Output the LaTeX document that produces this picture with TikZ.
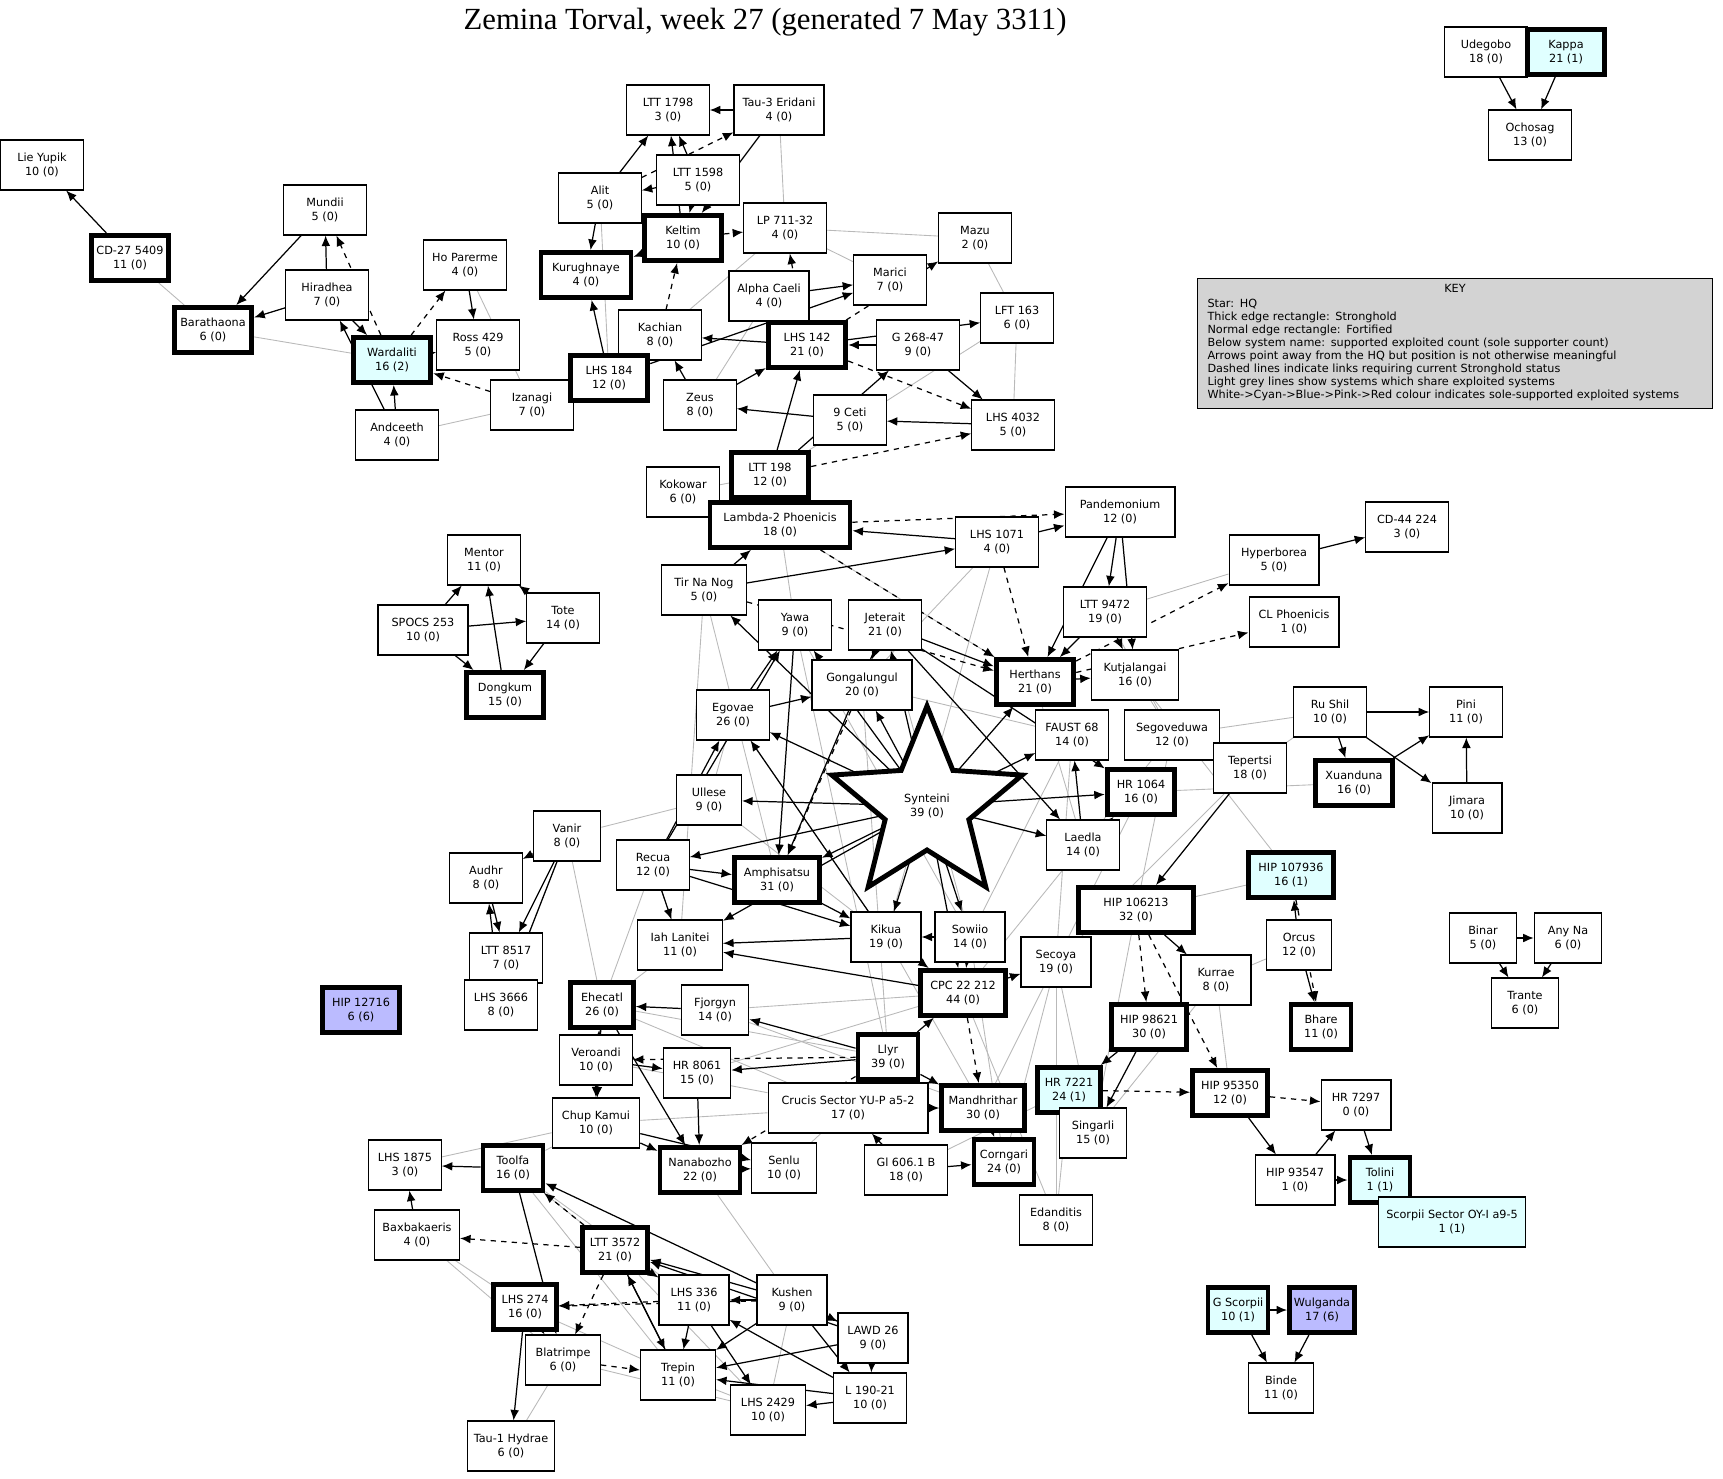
\documentclass[tikz,border=0pt]{standalone}
\usepackage{fontspec}
\setmainfont{DejaVu Sans}
\newfontfamily\titlefont{Liberation Serif}
\usetikzlibrary{arrows.meta}
\definecolor{cy}{HTML}{E0FFFF}
\definecolor{bl}{HTML}{BBBBFF}
\definecolor{kg}{HTML}{D3D3D3}
\pgfdeclarelayer{bg}
\pgfsetlayers{bg,main}
\begin{document}
\begin{tikzpicture}[x=0.02cm,y=-0.02cm,
 nb/.style={draw,fill=white,line width=0.6pt,minimum width=1.65cm,minimum height=1.0cm,align=center,font=\fontsize{6.4}{7.6}\selectfont,inner sep=2pt},
 tb/.style={nb,line width=2.8pt,minimum width=1.55cm,minimum height=0.9cm},
 ar/.style={-{Latex[length=6pt,width=5pt]},line width=0.7pt},
 da/.style={ar,dashed},
 gr/.style={gray!55,line width=0.5pt}]
\useasboundingbox (0,0) rectangle (1723,1479);
\node[font=\titlefont\fontsize{17.5}{20}\selectfont] (title) at (765,22) {Zemina Torval, week 27 (generated 7 May 3311)};
% star
\begin{scope}[shift={(927,806)}]
\draw[line width=2.8pt,fill=white,line join=miter] (-90:100)--(-54:44)--(-18:100)--(18:44)--(54:100)--(90:44)--(126:100)--(162:44)--(198:100)--(234:44)--cycle;
\end{scope}
\node[circle,minimum size=1.6cm,align=center,font=\fontsize{6.4}{7.6}\selectfont] (syn) at (927,806) {Synteini\\39 (0)};
\node[nb] (udeg) at (1486,52) {Udegobo\\18 (0)};
\node[tb,fill=cy] (kapp) at (1566,52) {Kappa\\21 (1)};
\node[nb] (ocho) at (1530,135) {Ochosag\\13 (0)};
\node[nb] (lieY) at (42,165) {Lie Yupik\\10 (0)};
\node[tb] (cd27) at (130,258) {CD-27 5409\\11 (0)};
\node[nb] (mund) at (325,210) {Mundii\\5 (0)};
\node[tb] (bara) at (213,330) {Barathaona\\6 (0)};
\node[nb] (hira) at (327,295) {Hiradhea\\7 (0)};
\node[nb] (hopa) at (465,265) {Ho Parerme\\4 (0)};
\node[nb] (ross) at (478,345) {Ross 429\\5 (0)};
\node[tb,fill=cy] (ward) at (392,360) {Wardaliti\\16 (2)};
\node[nb] (izan) at (532,405) {Izanagi\\7 (0)};
\node[nb] (andc) at (397,435) {Andceeth\\4 (0)};
\node[nb] (lt17) at (668,110) {LTT 1798\\3 (0)};
\node[nb,minimum width=1.8cm] (tau3) at (779,110) {Tau-3 Eridani\\4 (0)};
\node[nb] (alit) at (600,198) {Alit\\5 (0)};
\node[nb] (lt15) at (698,180) {LTT 1598\\5 (0)};
\node[tb] (kelt) at (683,238) {Keltim\\10 (0)};
\node[nb] (lp71) at (785,228) {LP 711-32\\4 (0)};
\node[tb,minimum width=1.8cm] (kuru) at (586,275) {Kurughnaye\\4 (0)};
\node[nb,minimum width=1.45cm] (mazu) at (975,238) {Mazu\\2 (0)};
\node[nb,minimum width=1.45cm] (mari) at (890,280) {Marici\\7 (0)};
\node[nb,minimum width=1.6cm] (alph) at (769,296) {Alpha Caeli\\4 (0)};
\node[nb] (kach) at (660,335) {Kachian\\8 (0)};
\node[tb] (lh14) at (807,345) {LHS 142\\21 (0)};
\node[nb] (g268) at (918,345) {G 268-47\\9 (0)};
\node[nb,minimum width=1.45cm] (lf16) at (1017,318) {LFT 163\\6 (0)};
\node[tb] (lh18) at (609,378) {LHS 184\\12 (0)};
\node[nb,minimum width=1.45cm] (zeus) at (700,405) {Zeus\\8 (0)};
\node[nb,minimum width=1.45cm] (ceti) at (850,420) {9 Ceti\\5 (0)};
\node[nb] (lh40) at (1013,425) {LHS 4032\\5 (0)};
\node[tb] (lt19) at (770,475) {LTT 198\\12 (0)};
\node[nb,minimum width=1.45cm] (koko) at (683,492) {Kokowar\\6 (0)};
\node[tb,minimum width=2.8cm] (lamb) at (780,525) {Lambda-2 Phoenicis\\18 (0)};
\node[nb,minimum width=2.2cm] (pand) at (1120,512) {Pandemonium\\12 (0)};
\node[nb] (cd44) at (1407,527) {CD-44 224\\3 (0)};
\node[nb] (lh10) at (997,542) {LHS 1071\\4 (0)};
\node[nb,minimum width=1.45cm] (ment) at (484,560) {Mentor\\11 (0)};
\node[nb,minimum width=1.7cm] (tirn) at (704,590) {Tir Na Nog\\5 (0)};
\node[nb,minimum width=1.8cm] (hype) at (1274,560) {Hyperborea\\5 (0)};
\node[nb,minimum width=1.45cm] (tote) at (563,618) {Tote\\14 (0)};
\node[nb,minimum width=1.8cm] (spoc) at (423,630) {SPOCS 253\\10 (0)};
\node[nb,minimum width=1.45cm] (yawa) at (795,625) {Yawa\\9 (0)};
\node[nb,minimum width=1.45cm] (jete) at (885,625) {Jeterait\\21 (0)};
\node[nb] (lt94) at (1105,612) {LTT 9472\\19 (0)};
\node[nb,minimum width=1.8cm] (clph) at (1294,622) {CL Phoenicis\\1 (0)};
\node[tb] (hert) at (1035,682) {Herthans\\21 (0)};
\node[nb,minimum width=1.75cm] (kutj) at (1135,675) {Kutjalangai\\16 (0)};
\node[nb,minimum width=2.0cm] (gong) at (862,685) {Gongalungul\\20 (0)};
\node[tb] (dong) at (505,695) {Dongkum\\15 (0)};
\node[nb,minimum width=1.45cm] (egov) at (733,715) {Egovae\\26 (0)};
\node[nb,minimum width=1.45cm] (rush) at (1330,712) {Ru Shil\\10 (0)};
\node[nb,minimum width=1.45cm] (pini) at (1466,712) {Pini\\11 (0)};
\node[nb,minimum width=1.45cm] (faus) at (1072,735) {FAUST 68\\14 (0)};
\node[nb,minimum width=1.9cm] (sego) at (1172,735) {Segoveduwa\\12 (0)};
\node[nb,minimum width=1.3cm] (ulle) at (709,800) {Ullese\\9 (0)};
\node[nb,minimum width=1.45cm] (tepe) at (1250,768) {Tepertsi\\18 (0)};
\node[tb] (xuan) at (1354,783) {Xuanduna\\16 (0)};
\node[nb,minimum width=1.4cm] (jima) at (1467,808) {Jimara\\10 (0)};
\node[tb,minimum width=1.35cm] (hr10) at (1141,792) {HR 1064\\16 (0)};
\node[nb,minimum width=1.35cm] (vani) at (567,836) {Vanir\\8 (0)};
\node[nb,minimum width=1.45cm] (laed) at (1083,845) {Laedla\\14 (0)};
\node[nb,minimum width=1.45cm] (audh) at (486,878) {Audhr\\8 (0)};
\node[nb,minimum width=1.45cm] (recu) at (653,865) {Recua\\12 (0)};
\node[tb,minimum width=1.7cm] (amph) at (777,880) {Amphisatsu\\31 (0)};
\node[tb,fill=cy,minimum width=1.7cm] (h107) at (1291,875) {HIP 107936\\16 (1)};
\node[tb,minimum width=2.3cm] (h106) at (1136,910) {HIP 106213\\32 (0)};
\node[nb,minimum width=1.3cm] (orcu) at (1299,945) {Orcus\\12 (0)};
\node[nb,minimum width=1.35cm] (bina) at (1483,938) {Binar\\5 (0)};
\node[nb,minimum width=1.35cm] (anyn) at (1568,938) {Any Na\\6 (0)};
\node[nb,minimum width=1.45cm] (lt85) at (506,958) {LTT 8517\\7 (0)};
\node[nb,minimum width=1.4cm] (kiku) at (886,937) {Kikua\\19 (0)};
\node[nb,minimum width=1.4cm] (sowi) at (970,937) {Sowiio\\14 (0)};
\node[nb,minimum width=1.7cm] (iahl) at (680,945) {Iah Lanitei\\11 (0)};
\node[nb,minimum width=1.4cm] (kurr) at (1216,980) {Kurrae\\8 (0)};
\node[nb,minimum width=1.4cm] (seco) at (1056,962) {Secoya\\19 (0)};
\node[tb,minimum width=1.7cm] (cpc) at (963,993) {CPC 22 212\\44 (0)};
\node[tb,fill=bl] (h127) at (361,1010) {HIP 12716\\6 (6)};
\node[nb,minimum width=1.45cm] (l366) at (501,1005) {LHS 3666\\8 (0)};
\node[tb,minimum width=1.25cm] (ehec) at (602,1005) {Ehecatl\\26 (0)};
\node[nb,minimum width=1.35cm] (fjor) at (715,1010) {Fjorgyn\\14 (0)};
\node[nb,minimum width=1.35cm] (tran) at (1525,1003) {Trante\\6 (0)};
\node[tb,minimum width=1.2cm] (bhar) at (1321,1027) {Bhare\\11 (0)};
\node[tb,minimum width=1.5cm] (h986) at (1149,1027) {HIP 98621\\30 (0)};
\node[tb,minimum width=1.2cm] (llyr) at (888,1057) {Llyr\\39 (0)};
\node[nb,minimum width=1.45cm] (vero) at (596,1060) {Veroandi\\10 (0)};
\node[nb,minimum width=1.35cm] (hr80) at (697,1073) {HR 8061\\15 (0)};
\node[tb,fill=cy,minimum width=1.25cm] (hr72) at (1069,1090) {HR 7221\\24 (1)};
\node[tb,minimum width=1.5cm] (h953) at (1230,1093) {HIP 95350\\12 (0)};
\node[nb,minimum width=1.4cm] (hr73) at (1356,1105) {HR 7297\\0 (0)};
\node[nb,minimum width=3.2cm] (cruc) at (848,1108) {Crucis Sector YU-P a5-2\\17 (0)};
\node[tb,minimum width=1.65cm] (mand) at (983,1108) {Mandhrithar\\30 (0)};
\node[nb,minimum width=1.75cm] (chup) at (596,1123) {Chup Kamui\\10 (0)};
\node[nb,minimum width=1.35cm] (sing) at (1093,1133) {Singarli\\15 (0)};
\node[nb,minimum width=1.3cm] (senl) at (784,1168) {Senlu\\10 (0)};
\node[nb,minimum width=1.65cm] (gl60) at (906,1170) {Gl 606.1 B\\18 (0)};
\node[tb,minimum width=1.2cm] (corn) at (1004,1162) {Corngari\\24 (0)};
\node[tb,minimum width=1.6cm] (nana) at (700,1170) {Nanabozho\\22 (0)};
\node[nb,minimum width=1.45cm] (l187) at (405,1165) {LHS 1875\\3 (0)};
\node[tb,minimum width=1.2cm] (tool) at (513,1168) {Toolfa\\16 (0)};
\node[nb,minimum width=1.6cm] (h935) at (1295,1180) {HIP 93547\\1 (0)};
\node[tb,fill=cy,minimum width=1.2cm] (toli) at (1380,1180) {Tolini\\1 (1)};
\node[nb,minimum width=1.7cm] (baxb) at (417,1235) {Baxbakaeris\\4 (0)};
\node[tb,minimum width=1.3cm] (lt35) at (615,1250) {LTT 3572\\21 (0)};
\node[nb,minimum width=1.45cm] (edan) at (1056,1220) {Edanditis\\8 (0)};
\node[nb,fill=cy,minimum width=2.95cm] (scor) at (1452,1222) {Scorpii Sector OY-I a9-5\\1 (1)};
\node[nb,minimum width=1.4cm] (l336) at (694,1300) {LHS 336\\11 (0)};
\node[nb,minimum width=1.4cm] (kush) at (792,1300) {Kushen\\9 (0)};
\node[tb,fill=cy,minimum width=1.2cm] (gsco) at (1238,1310) {G Scorpii\\10 (1)};
\node[tb,fill=bl,minimum width=1.3cm] (wulg) at (1322,1310) {Wulganda\\17 (6)};
\node[tb,minimum width=1.25cm] (l274) at (525,1307) {LHS 274\\16 (0)};
\node[nb,minimum width=1.4cm] (lawd) at (873,1338) {LAWD 26\\9 (0)};
\node[nb,minimum width=1.5cm] (blat) at (563,1360) {Blatrimpe\\6 (0)};
\node[nb,minimum width=1.5cm] (trep) at (678,1375) {Trepin\\11 (0)};
\node[nb,minimum width=1.45cm] (l190) at (870,1398) {L 190-21\\10 (0)};
\node[nb,minimum width=1.5cm] (l242) at (768,1410) {LHS 2429\\10 (0)};
\node[nb,minimum width=1.3cm] (bind) at (1281,1388) {Binde\\11 (0)};
\node[nb,minimum width=1.75cm] (tau1) at (511,1446) {Tau-1 Hydrae\\6 (0)};
% key
\node[draw,fill=kg,line width=0.6pt,minimum width=10.3cm,minimum height=2.6cm,anchor=north west,align=left,font=\fontsize{6.4}{7.4}\selectfont,inner sep=3pt,text width=9.9cm] (key) at (1197,278) {\strut\\
Star: HQ\\
Thick edge rectangle: Stronghold\\
Normal edge rectangle: Fortified\\
Below system name: supported exploited count (sole supporter count)\\
Arrows point away from the HQ but position is not otherwise meaningful\\
Dashed lines indicate links requiring current Stronghold status\\
Light grey lines show systems which share exploited systems\\
White->Cyan->Blue->Pink->Red colour indicates sole-supported exploited systems};
\node[font=\fontsize{6.4}{7.4}\selectfont] (keyt) at (1455,288) {KEY};
\begin{pgfonlayer}{bg}
\foreach \a/\b in {cd27/bara,bara/ward,hopa/izan,andc/izan,izan/lh18,tau3/lp71,lp71/mazu,lp71/mari,alit/lh18,kach/lp71,zeus/alph,lf16/lh40,lf16/lt19,mazu/lf16,lt19/koko,lamb/tirn,lt94/hype,kutj/sego,sego/laed,rush/tepe,rush/sego,xuan/hr10,h107/h106,tepe/seco,vani/ulle,vani/ehec,vani/l366,recu/ehec,recu/iahl,fjor/cpc,llyr/ehec,ehec/cruc,chup/cruc,senl/cruc,nana/kush,tool/chup,l187/chup,tool/lt35,l274/baxb,blat/l242,tau1/blat,trep/l242,edan/seco,edan/hr72,corn/seco,kurr/sing,kurr/h953,gl60/hr72,orcu/kurr,h106/sing,seco/sing,hert/laed,faus/sowi,gong/faus,yawa/sowi,egov/kiku,ulle/kiku,iahl/kiku,tirn/iahl,tirn/amph,egov/ulle,lamb/yawa,lamb/hert,lh10/kiku,jete/sowi,gong/llyr,yawa/llyr,hr80/cpc,fjor/mand,vero/cruc,ehec/iahl,seco/mand,kiku/mand,sowi/corn,cpc/edan,laed/cpc,lt94/sego,sego/h106,hr10/seco,faus/seco,kutj/h107,lh10/gong,tool/l336,tool/trep,lt35/l242,kush/l242,l274/trep,baxb/blat}
  \draw[gr] (\a) -- (\b);
\foreach \a/\b in {udeg/kapp,udeg/ocho,kapp/ocho,cd27/lieY,mund/bara,hira/mund,hira/bara,hira/ward,hopa/ross,ward/ross,andc/ward,andc/hira,tau3/lt17,alit/lt17,lt15/lt17,kelt/lt17,lt15/kelt,tau3/kelt,lt15/alit,alit/kuru,kelt/kuru,lh18/kuru,lh14/kach,alph/mari,lh18/mari,lh14/lf16,g268/lh14,g268/lh40,lh40/ceti,ceti/zeus,lt19/lh14,lt19/g268,zeus/kach,zeus/lh14,lamb/koko,lh10/lamb,lh10/pand,tirn/lh10,tirn/lamb,pand/lt94,pand/hert,pand/kutj,hype/cd44,lt94/kutj,lt94/hert,hert/kutj,spoc/ment,spoc/tote,tote/ment,spoc/dong,dong/ment,tote/dong,rush/pini,rush/xuan,rush/jima,jima/pini,xuan/pini,syn/tirn,syn/egov,syn/gong,syn/jete,syn/yawa,syn/ulle,syn/recu,syn/amph,syn/kiku,syn/sowi,syn/cpc,syn/laed,syn/hr10,syn/faus,syn/hert,syn/iahl,tepe/h106,h106/kurr,orcu/h107,orcu/bhar,bina/anyn,bina/tran,anyn/tran,kurr/h986,h986/hr72,h986/sing,h953/h935,h935/hr73,hr73/toli,h935/toli,gsco/wulg,gsco/bind,wulg/bind,llyr/cpc,llyr/fjor,llyr/hr80,llyr/mand,mand/corn,gl60/corn,gl60/cruc,cruc/mand,fjor/ehec,vero/ehec,vero/chup,vero/hr80,hr80/nana,chup/nana,chup/senl,nana/senl,ehec/nana,vani/audh,vani/lt85,vani/l366,audh/lt85,l366/audh,lt85/l366,recu/egov,recu/iahl,recu/amph,recu/kiku,recu/yawa,egov/yawa,egov/gong,yawa/amph,jete/amph,jete/hert,jete/hr10,jete/laed,jete/gong,kiku/iahl,kiku/egov,sowi/cpc,sowi/kiku,cpc/seco,laed/faus,laed/hr10,cpc/iahl,amph/kiku,tool/l187,baxb/l187,lt35/l336,lt35/trep,l274/tau1,l274/blat,kush/l336,kush/lt35,kush/lawd,kush/trep,kush/l190,lawd/tool,lawd/lt35,lawd/l190,lawd/trep,l190/l242,l190/trep,l190/l336,l336/trep,l336/l242,trep/lt35,tool/blat}
  \draw[ar] (\a) -- (\b);
\foreach \a/\b in {ward/mund,ward/hopa,izan/ward,kelt/lp71,alit/tau3,kach/kelt,lh14/lp71,lh14/mazu,lh14/lh40,lt19/lh40,lamb/pand,lh10/hert,lamb/hert,tirn/hert,hert/hype,hert/clph,h106/h986,h106/h953,h107/bhar,h953/hr73,toli/scor,hr72/h953,llyr/vero,llyr/nana,cpc/mand,ehec/chup,gong/amph,kiku/cpc,lt35/baxb,lt35/tool,lt35/blat,l336/l274,blat/trep,kush/l274}
  \draw[da] (\a) -- (\b);
\end{pgfonlayer}
\end{tikzpicture}
\end{document}
